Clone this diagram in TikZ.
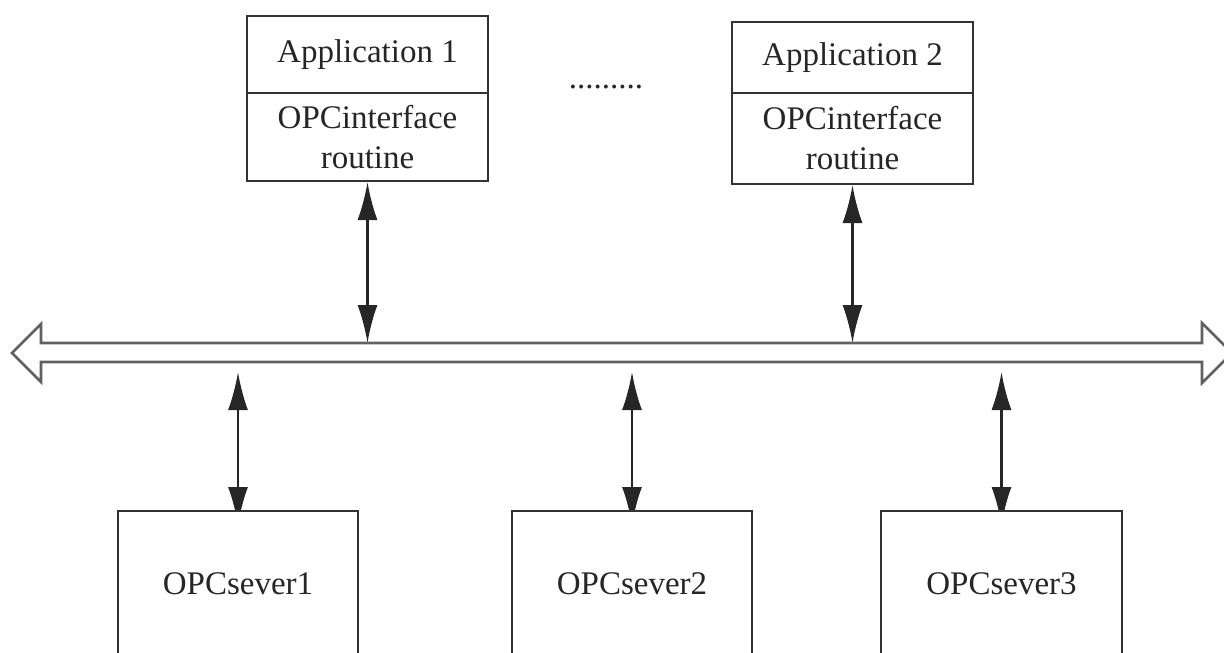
\documentclass[tikz,border=0pt]{standalone}
\usepackage{fontspec}
\setmainfont{Liberation Serif}
\usetikzlibrary{arrows.meta}
\pgfdeclarelayer{bg}
\pgfsetlayers{bg,main}
\begin{document}
\begin{tikzpicture}[x=1pt,y=-1pt,
  lbl/.style={font=\fontsize{33}{40}\selectfont, text=black!85},
  box/.style={lbl, draw=black!80, line width=2pt, fill=white, inner sep=0pt, align=center},
  buspath/.style={draw=black!62, line width=2.6pt, line join=miter, fill=white},
  link/.style={draw=black!85, line width=2.4pt,
    {Latex[length=38pt,width=20pt]}-{Latex[length=38pt,width=20pt]}},
]
\useasboundingbox (0,0) rectangle (1224,653);

% application boxes
\node[box, minimum width=241pt, minimum height=77pt] (a1t) at (367.5,54.5) {Application 1};
\node[box, minimum width=241pt, minimum height=88pt] (a1b) at (367.5,137) {OPCinterface\\routine};
\node[box, minimum width=241pt, minimum height=71pt] (a2t) at (852.5,57.5) {Application 2};
\node[box, minimum width=241pt, minimum height=91pt] (a2b) at (852.5,138.5) {OPCinterface\\routine};

% dots
\node[lbl, anchor=base, inner sep=0pt] (dots) at (606,88) {.........};

% server boxes (bottom edge lies outside the picture)
\node[box, minimum width=240pt, minimum height=146pt] (s1) at (238,584) {OPCsever1};
\node[box, minimum width=240pt, minimum height=146pt] (s2) at (632,584) {OPCsever2};
\node[box, minimum width=241pt, minimum height=146pt] (s3) at (1001.5,584) {OPCsever3};

% bus
\draw[buspath] (12,353) -- (41,324) -- (41,343) -- (1202,343) -- (1202,323)
  -- (1232,353) -- (1202,383) -- (1202,362) -- (41,362) -- (41,382) -- cycle;
\coordinate (bustop) at (0,343);
\coordinate (busbot) at (0,372);

% connectors
\draw[link] (a1b.south) -- (a1b.south |- bustop);
\draw[link] (a2b.south) -- (a2b.south |- bustop);
\begin{pgfonlayer}{bg}
\draw[link] (s1.north |- busbot) -- ([yshift=-15pt]s1.north);
\draw[link] (s2.north |- busbot) -- ([yshift=-15pt]s2.north);
\draw[link] (s3.north |- busbot) -- ([yshift=-15pt]s3.north);
\end{pgfonlayer}
\end{tikzpicture}
\end{document}
